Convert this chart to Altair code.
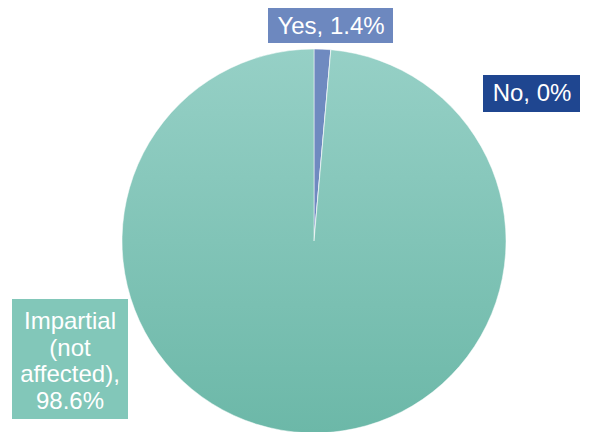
import altair as alt
import pandas as pd

categories = ["Yes", "No", "Impartial (not affected)"]
values = [1.4, 0.0, 98.6]
order = [0, 1, 2]
label_lines = [["Yes, 1.4%"], ["No, 0%"], ["Impartial", "(not", "affected),", "98.6%"]]

df = pd.DataFrame({"cat": categories, "value": values, "ord": order})

gradient = {
    "gradient": "linear", "x1": 0, "y1": 0, "x2": 0, "y2": 1,
    "stops": [{"offset": 0, "color": "#96d0c6"}, {"offset": 1, "color": "#6cb8a8"}],
}

pie = alt.Chart(df).mark_arc(radius=192, stroke="white", strokeWidth=0.5).encode(
    theta=alt.Theta("value:Q", stack=True, scale=alt.Scale(range=[0, 6.283185307])),
    order=alt.Order("ord:Q"),
    x=alt.value(314),
    y=alt.value(241),
    fill={
        "condition": [
            {"test": "datum.cat === 'Yes'", "value": "#6f8ac0"},
            {"test": "datum.cat === 'No'", "value": "#1f4690"},
        ],
        "value": gradient,
    },
)

FONT = "Liberation Sans"

def label(i, cx, cy, x1, x2, y1, y2, color):
    base = alt.Chart(pd.DataFrame({"cat": [categories[i]]}))
    box = base.mark_rect(color=color).encode(
        x=alt.value(x1), x2=alt.value(x2), y=alt.value(y1), y2=alt.value(y2)
    )
    lines = label_lines[i]
    txt = base.mark_text(
        font=FONT, fontSize=24, color="white", align="center", baseline="middle", lineHeight=26.5
    ).encode(x=alt.value(cx), y=alt.value(cy), text=alt.value(lines if len(lines) > 1 else lines[0]))
    return box + txt

chart = alt.layer(
    pie,
    label(0, 331, 27, 268, 393, 8, 43, "#6d88bf"),
    label(1, 532, 94, 483, 580, 75, 112, "#1f4690"),
    label(2, 70, 322, 12, 128, 299, 419, "#82c7b9"),
).properties(width=590, height=432, padding=0, autosize="none").configure_view(stroke=None)

chart.save("out.html", embed_options={"renderer": "svg", "actions": False})
